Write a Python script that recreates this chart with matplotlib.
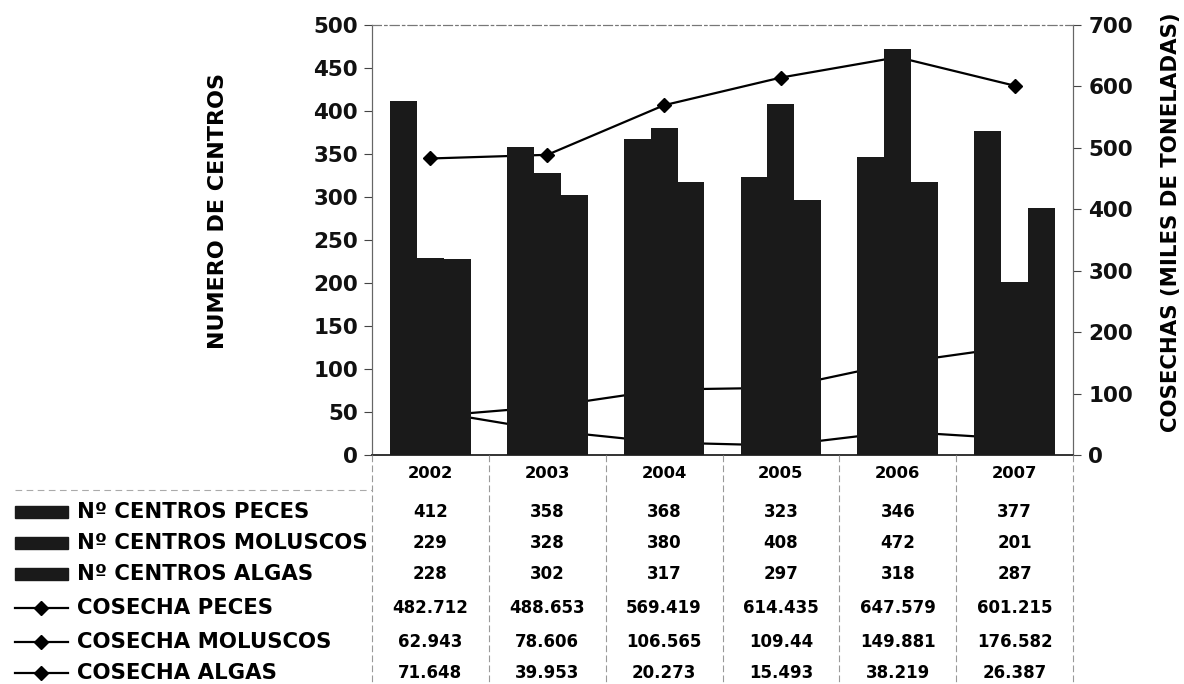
import numpy as np
import matplotlib.pyplot as plt
from matplotlib.transforms import blended_transform_factory
from matplotlib.patches import Rectangle
from matplotlib.lines import Line2D

years = ['2002', '2003', '2004', '2005', '2006', '2007']
centros_peces = [412, 358, 368, 323, 346, 377]
centros_moluscos = [229, 328, 380, 408, 472, 201]
centros_algas = [228, 302, 317, 297, 318, 287]
cosecha_peces = [482.712, 488.653, 569.419, 614.435, 647.579, 601.215]
cosecha_moluscos = [62.943, 78.606, 106.565, 109.44, 149.881, 176.582]
cosecha_algas = [71.648, 39.953, 20.273, 15.493, 38.219, 26.387]

row_labels = ['Nº CENTROS PECES', 'Nº CENTROS MOLUSCOS', 'Nº CENTROS ALGAS',
              'COSECHA PECES', 'COSECHA MOLUSCOS', 'COSECHA ALGAS']
cell_text = [
    ['412', '358', '368', '323', '346', '377'],
    ['229', '328', '380', '408', '472', '201'],
    ['228', '302', '317', '297', '318', '287'],
    ['482.712', '488.653', '569.419', '614.435', '647.579', '601.215'],
    ['62.943', '78.606', '106.565', '109.44', '149.881', '176.582'],
    ['71.648', '39.953', '20.273', '15.493', '38.219', '26.387'],
]

plt.rcParams['font.family'] = 'DejaVu Sans'
plt.rcParams['font.weight'] = 'bold'

W, H = 1184, 684
fig = plt.figure(figsize=(W / 100, H / 100), dpi=100)
ax = fig.add_axes([372 / W, 1 - 455 / H, (1073 - 372) / W, (455 - 25) / H])
ax2 = ax.twinx()

BAR = '#1a1a1a'
x = np.arange(len(years))
bw = 0.23

# lines sit behind the bars
for vals in (cosecha_peces, cosecha_moluscos, cosecha_algas):
    ax2.plot(x, vals, color='black', lw=1.6, marker='D', markersize=7.5, zorder=2)

ax.bar(x - bw, centros_peces, bw, color=BAR, zorder=3)
ax.bar(x, centros_moluscos, bw, color=BAR, zorder=3)
ax.bar(x + bw, centros_algas, bw, color=BAR, zorder=3)

ax.set_zorder(ax2.get_zorder() + 1)
ax.patch.set_visible(False)

ax.set_xlim(-0.5, len(years) - 0.5)
ax.set_ylim(0, 500)
ax2.set_ylim(0, 700)
ax.set_yticks(np.arange(0, 501, 50))
ax2.set_yticks(np.arange(0, 701, 100))
ax.set_xticks([])

ax.tick_params(axis='y', labelsize=15.5, length=6, width=0.8, colors='#444444',
               labelcolor='#111111', pad=4)
ax2.tick_params(axis='y', labelsize=15.5, length=6, width=0.8, colors='#444444',
                labelcolor='#111111', pad=5)
for t in ax.get_yticklabels() + ax2.get_yticklabels():
    t.set_fontweight('bold')

for a in (ax, ax2):
    a.spines['top'].set_linestyle((0, (8, 3, 2, 3)))
    a.spines['top'].set_color('#777777')
    a.spines['left'].set_color('#666666')
    a.spines['right'].set_color('#666666')
    a.spines['bottom'].set_color('#333333')
    a.spines['bottom'].set_linewidth(1.2)

ax.set_ylabel('NUMERO DE CENTROS', fontsize=16, fontweight='bold')
ax.yaxis.set_label_coords(-(372 - 228) / 701, 0.567)
ax2.set_ylabel('COSECHAS (MILES DE TONELADAS)', fontsize=15.3, fontweight='bold')
ax2.yaxis.set_label_coords((1161 - 372) / 701, 0.542)

# data table below the axes
tr = blended_transform_factory(ax.transData, fig.transFigure)
row_y = [1 - y / H for y in (512, 543, 574, 608, 642, 673)]
year_y = 1 - 473 / H
for i, yr in enumerate(years):
    fig.text(i, year_y, yr, transform=tr, ha='center', va='center',
             fontsize=11.8, fontweight='bold')

for r, row in enumerate(cell_text):
    for i, s in enumerate(row):
        fig.text(i, row_y[r], s, transform=tr, ha='center', va='center',
                 fontsize=12, fontweight='bold')

# faint table grid
for b in np.arange(-0.5, len(years), 1.0):
    fig.add_artist(Line2D([b, b], [1 - 455 / H, 1 - 684 / H], transform=tr,
                          color='#999999', lw=0.8, ls=(0, (6, 3))))
fig.add_artist(Line2D([15 / W, 372 / W], [1 - 490 / H, 1 - 490 / H],
                      color='#aaaaaa', lw=0.8, ls=(0, (6, 4))))

# row labels with legend keys
for r, lab in enumerate(row_labels):
    yy = row_y[r]
    if r < 3:
        fig.add_artist(Rectangle((15 / W, yy - 6 / H), 53 / W, 12 / H,
                                 transform=fig.transFigure, color=BAR))
    else:
        fig.add_artist(Line2D([15 / W, 68 / W], [yy, yy], color='black', lw=1.6,
                              transform=fig.transFigure))
        fig.add_artist(Line2D([41 / W], [yy], color='black', marker='D',
                              markersize=7.5, transform=fig.transFigure))
    fig.text(77 / W, yy, lab, ha='left', va='center', fontsize=15.3,
             fontweight='bold')

fig.savefig('out.png', dpi=100)
